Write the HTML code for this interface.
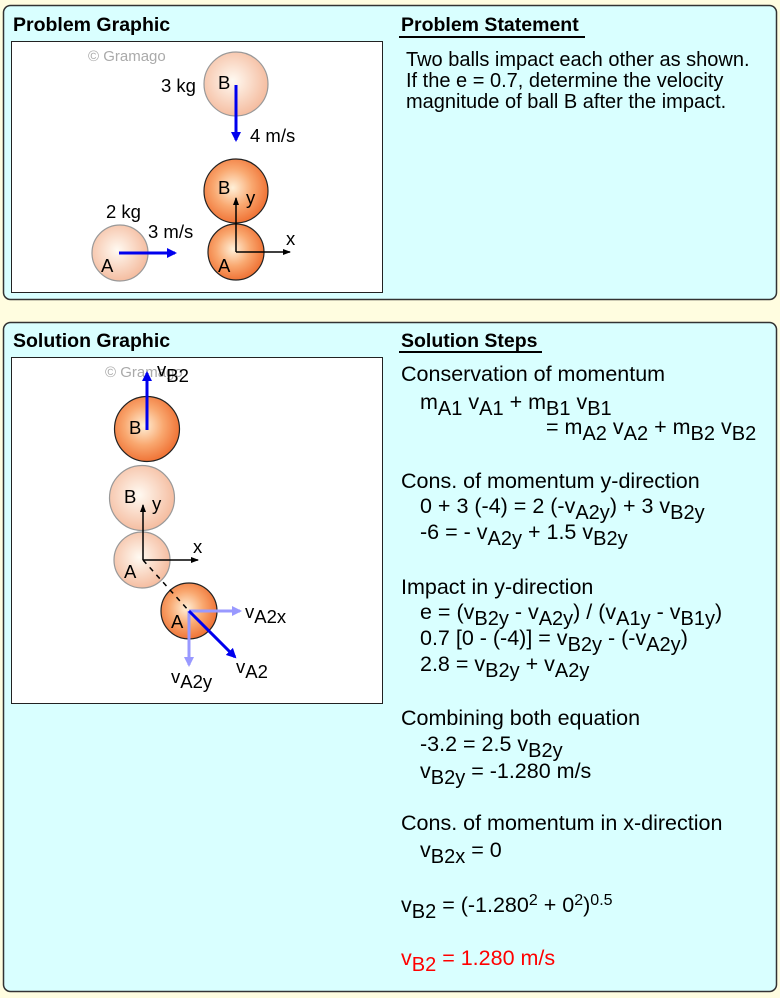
<!DOCTYPE html>
<html><head><meta charset="utf-8"><style>
html,body{margin:0;padding:0;background:#fffde0;}
svg{display:block;font-family:"Liberation Sans",Arial,sans-serif;}
</style></head><body>
<svg width="780" height="998" viewBox="0 0 780 998" xmlns="http://www.w3.org/2000/svg">
<defs>
<radialGradient id="lt" cx="0.45" cy="0.45" r="0.6"><stop offset="0" stop-color="#fffaf2"/><stop offset="1" stop-color="#f4b89a"/></radialGradient>
<radialGradient id="dk" cx="0.45" cy="0.45" r="0.6"><stop offset="0" stop-color="#fff0d8"/><stop offset="0.5" stop-color="#f9a870"/><stop offset="1" stop-color="#ee6a2c"/></radialGradient>
<marker id="ab" markerWidth="10" markerHeight="10" refX="8" refY="5" orient="auto" markerUnits="userSpaceOnUse"><path d="M0,0 L10,5 L0,10 z" fill="#0000ee"/></marker>
<marker id="ak" markerWidth="8" markerHeight="8" refX="7" refY="4" orient="auto" markerUnits="userSpaceOnUse"><path d="M0,1 L8,4 L0,7 z" fill="#000"/></marker>
<marker id="al" markerWidth="10" markerHeight="10" refX="8" refY="5" orient="auto" markerUnits="userSpaceOnUse"><path d="M0,0 L10,5 L0,10 z" fill="#9999ff"/></marker>
</defs>
<rect width="780" height="998" fill="#fffde0"/>
<rect x="3.5" y="5.5" width="773" height="294" rx="7" fill="#d9ffff" stroke="#333" stroke-width="1.5"/>
<rect x="3.5" y="322.5" width="773" height="669" rx="7" fill="#d9ffff" stroke="#333" stroke-width="1.5"/>

<text x="13" y="31" font-size="19.5" font-weight="bold">Problem Graphic</text>
<text x="13" y="347" font-size="19.5" font-weight="bold">Solution Graphic</text>
<text x="401" y="31" font-size="19.5" font-weight="bold">Problem Statement</text>
<line x1="399" y1="37" x2="585" y2="37" stroke="#000" stroke-width="2"/>
<text x="401" y="347" font-size="19.5" font-weight="bold">Solution Steps</text>
<line x1="399" y1="352" x2="542" y2="352" stroke="#000" stroke-width="2"/>

<rect x="11.5" y="41.5" width="371" height="251" fill="#fff" stroke="#222" stroke-width="1"/>
<rect x="11.5" y="357.5" width="371" height="346" fill="#fff" stroke="#222" stroke-width="1"/>

<!-- problem graphic -->
<text x="88" y="61" font-size="15" fill="#aaa">© Gramago</text>
<circle cx="236" cy="84" r="32" fill="url(#lt)" stroke="#999" stroke-width="1.2"/>
<text x="218" y="89" font-size="18.5">B</text>
<text x="161" y="92" font-size="18.5">3 kg</text>
<line x1="236" y1="85" x2="236" y2="140" stroke="#0000ee" stroke-width="3" marker-end="url(#ab)"/>
<text x="250" y="142" font-size="18.5">4 m/s</text>
<circle cx="236" cy="191" r="32" fill="url(#dk)" stroke="#222" stroke-width="1.2"/>
<circle cx="236" cy="252" r="28" fill="url(#dk)" stroke="#222" stroke-width="1.2"/>
<text x="218" y="194" font-size="18.5">B</text>
<text x="218" y="272" font-size="18.5">A</text>
<line x1="236" y1="252" x2="236" y2="198" stroke="#000" stroke-width="1.5" marker-end="url(#ak)"/>
<line x1="236" y1="252" x2="290" y2="252" stroke="#000" stroke-width="1.5" marker-end="url(#ak)"/>
<text x="246" y="204" font-size="18.5">y</text>
<text x="286" y="245" font-size="18.5">x</text>
<circle cx="120" cy="253" r="28" fill="url(#lt)" stroke="#999" stroke-width="1.2"/>
<text x="101" y="272" font-size="18.5">A</text>
<text x="106" y="218" font-size="18.5">2 kg</text>
<text x="148" y="238" font-size="18.5">3 m/s</text>
<line x1="119" y1="253" x2="175" y2="253" stroke="#0000ee" stroke-width="3" marker-end="url(#ab)"/>

<!-- solution graphic -->
<text x="105" y="377" font-size="15" fill="#aaa">© Gramago</text>
<circle cx="147" cy="429" r="32.5" fill="url(#dk)" stroke="#222" stroke-width="1.2"/>
<text x="129" y="434" font-size="18.5">B</text>
<line x1="147" y1="430" x2="147" y2="373" stroke="#0000ee" stroke-width="3" marker-end="url(#ab)"/>
<text x="157" y="376" font-size="18.5">v<tspan dy="6">B2</tspan></text>
<circle cx="142" cy="498" r="32.5" fill="url(#lt)" stroke="#999" stroke-width="1.2"/>
<circle cx="142" cy="560" r="28" fill="url(#lt)" stroke="#999" stroke-width="1.2"/>
<text x="124" y="503" font-size="18.5">B</text>
<text x="124" y="578" font-size="18.5">A</text>
<line x1="143" y1="560" x2="143" y2="505" stroke="#000" stroke-width="1.5" marker-end="url(#ak)"/>
<line x1="143" y1="560" x2="198" y2="560" stroke="#000" stroke-width="1.5" marker-end="url(#ak)"/>
<text x="152" y="510" font-size="18.5">y</text>
<text x="193" y="553" font-size="18.5">x</text>
<circle cx="189" cy="611" r="28" fill="url(#dk)" stroke="#222" stroke-width="1.2"/>
<line x1="143" y1="560" x2="189" y2="611" stroke="#000" stroke-width="1.5" stroke-dasharray="5,5"/>
<text x="171" y="628" font-size="18.5">A</text>
<line x1="189" y1="611" x2="240" y2="611" stroke="#9999ff" stroke-width="3" marker-end="url(#al)"/>
<line x1="189" y1="611" x2="189" y2="665" stroke="#9999ff" stroke-width="3" marker-end="url(#al)"/>
<line x1="189" y1="611" x2="235" y2="657" stroke="#0000ee" stroke-width="3" marker-end="url(#ab)"/>
<text x="245" y="618" font-size="18.5">v<tspan dy="5">A2x</tspan></text>
<text x="236" y="673" font-size="18.5">v<tspan dy="5">A2</tspan></text>
<text x="171" y="683" font-size="18.5">v<tspan dy="5">A2y</tspan></text>

<!-- problem statement -->
<g font-size="20">
<text x="406" y="66">Two balls impact each other as shown.</text>
<text x="406" y="87">If the e = 0.7, determine the velocity</text>
<text x="406" y="108">magnitude of ball B after the impact.</text>
</g>

<!-- solution steps -->
<g font-size="21.5">
<text x="401" y="381">Conservation of momentum</text>
<text x="420" y="409">m<tspan dy="6" font-size="20">A1</tspan><tspan dy="-6"> v</tspan><tspan dy="6" font-size="20">A1</tspan><tspan dy="-6"> + m</tspan><tspan dy="6" font-size="20">B1</tspan><tspan dy="-6"> v</tspan><tspan dy="6" font-size="20">B1</tspan></text>
<text x="546" y="434">= m<tspan dy="6" font-size="20">A2</tspan><tspan dy="-6"> v</tspan><tspan dy="6" font-size="20">A2</tspan><tspan dy="-6"> + m</tspan><tspan dy="6" font-size="20">B2</tspan><tspan dy="-6"> v</tspan><tspan dy="6" font-size="20">B2</tspan></text>
<text x="401" y="488">Cons. of momentum y-direction</text>
<text x="420" y="513">0 + 3 (-4) = 2 (-v<tspan dy="6" font-size="20">A2y</tspan><tspan dy="-6">) + 3 v</tspan><tspan dy="6" font-size="20">B2y</tspan></text>
<text x="420" y="539">-6 = - v<tspan dy="6" font-size="20">A2y</tspan><tspan dy="-6"> + 1.5 v</tspan><tspan dy="6" font-size="20">B2y</tspan></text>
<text x="401" y="594">Impact in y-direction</text>
<text x="420" y="619">e = (v<tspan dy="6" font-size="20">B2y</tspan><tspan dy="-6"> - v</tspan><tspan dy="6" font-size="20">A2y</tspan><tspan dy="-6">) / (v</tspan><tspan dy="6" font-size="20">A1y</tspan><tspan dy="-6"> - v</tspan><tspan dy="6" font-size="20">B1y</tspan><tspan dy="-6">)</tspan></text>
<text x="420" y="645">0.7 [0 - (-4)] = v<tspan dy="6" font-size="20">B2y</tspan><tspan dy="-6"> - (-v</tspan><tspan dy="6" font-size="20">A2y</tspan><tspan dy="-6">)</tspan></text>
<text x="420" y="671">2.8 = v<tspan dy="6" font-size="20">B2y</tspan><tspan dy="-6"> + v</tspan><tspan dy="6" font-size="20">A2y</tspan></text>
<text x="401" y="725">Combining both equation</text>
<text x="420" y="751">-3.2 = 2.5 v<tspan dy="6" font-size="20">B2y</tspan></text>
<text x="420" y="778">v<tspan dy="6" font-size="20">B2y</tspan><tspan dy="-6"> = -1.280 m/s</tspan></text>
<text x="401" y="830">Cons. of momentum in x-direction</text>
<text x="420" y="857">v<tspan dy="6" font-size="20">B2x</tspan><tspan dy="-6"> = 0</tspan></text>
<text x="401" y="912">v<tspan dy="6" font-size="20">B2</tspan><tspan dy="-6"> = (-1.280</tspan><tspan dy="-7" font-size="16">2</tspan><tspan dy="7"> + 0</tspan><tspan dy="-7" font-size="16">2</tspan><tspan dy="7">)</tspan><tspan dy="-7" font-size="16">0.5</tspan></text>
<text x="401" y="965" fill="#ff0000">v<tspan dy="6" font-size="20">B2</tspan><tspan dy="-6"> = 1.280 m/s</tspan></text>
</g>
</svg>
</body></html>
